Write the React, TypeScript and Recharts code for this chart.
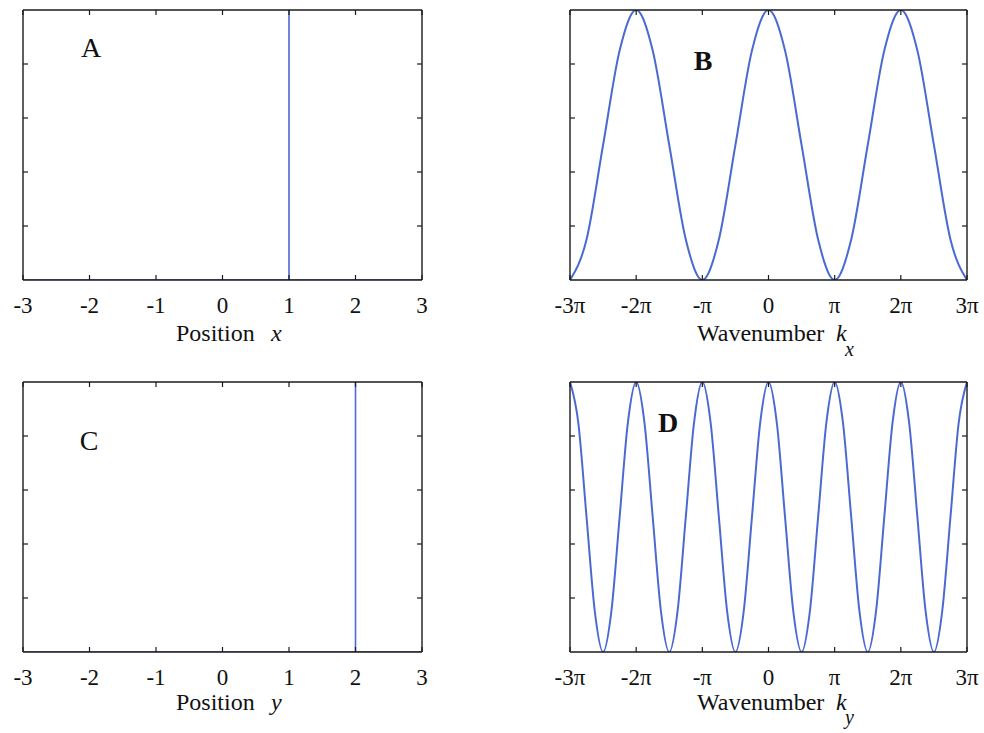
import { LineChart, Line, XAxis, YAxis } from "recharts";

const BLUE = "#4a6ad2";
const INK = "#1a1a1a";
const SERIF = "'Liberation Serif', 'DejaVu Serif', serif";

// x ticks (position) and k ticks (in units of π)
const POS_TICKS = [-3, -2, -1, 0, 1, 2, 3];
const POS_LABELS = ["-3", "-2", "-1", "0", "1", "2", "3"];
const K_TICKS = [-3, -2, -1, 0, 1, 2, 3];
const K_LABELS = ["-3π", "-2π", "-π", "0", "π", "2π", "3π"];
const Y_TICKS = [0.2, 0.4, 0.6, 0.8];

// point source at x = 1
const A_X = [-3, 1, 1, 1, 3];
const A_Y = [0, 0, 1, 0, 0];

// point source at y = 2
const C_X = [-3, 2, 2, 2, 3];
const C_Y = [0, 0, 1, 0, 0];

// spectrum along kx, one sample every π/4 from -3π to 3π
const B_VALUES = [
  0, 0.15, 0.5, 0.85, 1, 0.85, 0.5, 0.15,
  0, 0.15, 0.5, 0.85, 1, 0.85, 0.5, 0.15,
  0, 0.15, 0.5, 0.85, 1, 0.85, 0.5, 0.15,
  0,
];

// spectrum along ky, one sample every π/8 from -3π to 3π
const D_VALUES = [
  1, 0.85, 0.5, 0.15, 0, 0.15, 0.5, 0.85,
  1, 0.85, 0.5, 0.15, 0, 0.15, 0.5, 0.85,
  1, 0.85, 0.5, 0.15, 0, 0.15, 0.5, 0.85,
  1, 0.85, 0.5, 0.15, 0, 0.15, 0.5, 0.85,
  1, 0.85, 0.5, 0.15, 0, 0.15, 0.5, 0.85,
  1, 0.85, 0.5, 0.15, 0, 0.15, 0.5, 0.85,
  1,
];

const toRows = (xs: number[], ys: number[]) => xs.map((x, i) => ({ x, y: ys[i] }));
const onGrid = (ys: number[], step: number) => ys.map((y, i) => ({ x: -3 + i * step, y }));

// every axis takes 1px, so the plot starts one pixel inside the margin
const M = { top: 11, right: 23, bottom: 49, left: 29 };
const TICK_LEN = 5;
const axisLine = { stroke: INK, strokeWidth: 1.4 };

function bottomTick(labels: string[], ticks: number[]) {
  return (p: any) => (
    <g>
      <line x1={p.x} y1={p.y} x2={p.x} y2={p.y - TICK_LEN} stroke={INK} strokeWidth={1.2} />
      <text x={p.x} y={p.y + 33} textAnchor="middle" fontFamily={SERIF} fontSize={23} fill="#111">
        {labels[ticks.indexOf(p.payload.value)]}
      </text>
    </g>
  );
}
const topTick = (p: any) => (
  <line x1={p.x} y1={p.y} x2={p.x} y2={p.y + TICK_LEN} stroke={INK} strokeWidth={1.2} />
);
const leftTick = (p: any) => (
  <line x1={p.x} y1={p.y} x2={p.x + TICK_LEN} y2={p.y} stroke={INK} strokeWidth={1.2} />
);
const rightTick = (p: any) => (
  <line x1={p.x} y1={p.y} x2={p.x - TICK_LEN} y2={p.y} stroke={INK} strokeWidth={1.2} />
);

interface PanelProps {
  x: number;
  y: number;
  w: number;
  h: number;
  rows: { x: number; y: number }[];
  ticks: number[];
  labels: string[];
  smooth?: boolean;
}

function Panel({ x, y, w, h, rows, ticks, labels, smooth }: PanelProps) {
  return (
    <div style={{ position: "absolute", left: x - M.left - 1, top: y - M.top - 1 }}>
      <LineChart width={w + M.left + M.right + 2} height={h + M.top + M.bottom + 2} data={rows} margin={M}>
        <XAxis xAxisId="b" dataKey="x" type="number" domain={[-3, 3]} ticks={ticks} interval={0}
          height={1} tickSize={0} tickMargin={0} tickLine={false} axisLine={axisLine}
          tick={bottomTick(labels, ticks)} allowDataOverflow />
        <XAxis xAxisId="t" dataKey="x" orientation="top" type="number" domain={[-3, 3]} ticks={ticks} interval={0}
          height={1} tickSize={0} tickMargin={0} tickLine={false} axisLine={axisLine} tick={topTick} allowDataOverflow />
        <YAxis yAxisId="l" dataKey="y" type="number" domain={[0, 1]} ticks={Y_TICKS} interval={0}
          width={1} tickSize={0} tickMargin={0} tickLine={false} axisLine={axisLine} tick={leftTick} allowDataOverflow />
        <YAxis yAxisId="r" dataKey="y" orientation="right" type="number" domain={[0, 1]} ticks={Y_TICKS} interval={0}
          width={1} tickSize={0} tickMargin={0} tickLine={false} axisLine={axisLine} tick={rightTick} allowDataOverflow />
        <Line xAxisId="b" yAxisId="l" dataKey="y" type={smooth ? "monotone" : "linear"} stroke={BLUE}
          strokeWidth={smooth ? 2 : 1.6} dot={false} isAnimationActive={false} />
      </LineChart>
    </div>
  );
}

export default function App() {
  return (
    <div style={{ position: "absolute", left: 0, top: 0, width: 984, height: 733, background: "#fff" }}>
      <Panel x={23} y={10} w={399} h={270} rows={toRows(A_X, A_Y)} ticks={POS_TICKS} labels={POS_LABELS} />
      <Panel x={570} y={10} w={397} h={270} rows={onGrid(B_VALUES, 0.25)} ticks={K_TICKS} labels={K_LABELS} smooth />
      <Panel x={23} y={382} w={399} h={270} rows={toRows(C_X, C_Y)} ticks={POS_TICKS} labels={POS_LABELS} />
      <Panel x={570} y={382} w={397} h={270} rows={onGrid(D_VALUES, 0.125)} ticks={K_TICKS} labels={K_LABELS} smooth />

      <svg width={984} height={733} style={{ position: "absolute", left: 0, top: 0, pointerEvents: "none" }}
        fontFamily={SERIF} fill="#111">
        <text x={91} y={57} fontSize={28} textAnchor="middle">A</text>
        <text x={703} y={70} fontSize={28} textAnchor="middle" fontWeight="bold">B</text>
        <text x={89} y={450} fontSize={28} textAnchor="middle">C</text>
        <text x={668} y={432} fontSize={28} textAnchor="middle" fontWeight="bold">D</text>

        <text x={176} y={341} fontSize={24}>Position</text>
        <text x={271} y={341} fontSize={24} fontStyle="italic">x</text>
        <text x={697} y={341} fontSize={24}>Wavenumber</text>
        <text x={836} y={341} fontSize={24} fontStyle="italic">k</text>
        <text x={845} y={356} fontSize={20} fontStyle="italic">x</text>

        <text x={176} y={710} fontSize={24}>Position</text>
        <text x={271} y={710} fontSize={24} fontStyle="italic">y</text>
        <text x={697} y={710} fontSize={24}>Wavenumber</text>
        <text x={836} y={710} fontSize={24} fontStyle="italic">k</text>
        <text x={845} y={724} fontSize={20} fontStyle="italic">y</text>
      </svg>
    </div>
  );
}
